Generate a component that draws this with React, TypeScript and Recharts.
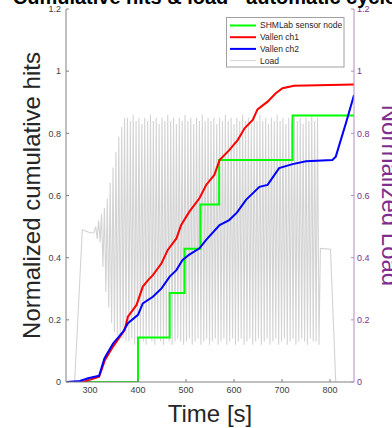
import React from 'react';
import { LineChart, Line, XAxis, YAxis } from 'recharts';

const xTicks = [300, 400, 500, 600, 700, 800];
const yTicks = [0, 0.2, 0.4, 0.6, 0.8, 1, 1.2];

// SHMLab sensor node (step)
const shmTime = [290, 400, 466, 497, 530, 569, 722, 850];
const shmHits = [0, 0.143, 0.286, 0.429, 0.571, 0.714, 0.857, 0.857];

// Vallen ch1
const ch1Time = [251, 286, 319, 331, 348, 372, 379, 397, 410, 421, 431, 449, 462, 480, 490, 507, 528, 542, 559, 570, 590, 608, 622, 639, 649, 670, 687, 701, 725, 850];
const ch1Hits = [0, 0, 0.017, 0.07, 0.114, 0.167, 0.21, 0.248, 0.307, 0.328, 0.344, 0.382, 0.425, 0.462, 0.505, 0.548, 0.591, 0.634, 0.666, 0.714, 0.746, 0.779, 0.816, 0.843, 0.877, 0.902, 0.929, 0.945, 0.953, 0.957];

// Vallen ch2
const ch2Time = [251, 279, 296, 319, 330, 348, 369, 379, 400, 410, 431, 449, 466, 480, 493, 507, 528, 542, 570, 590, 606, 625, 653, 670, 694, 722, 750, 805, 812, 833, 850];
const ch2Hits = [0, 0.003, 0.012, 0.02, 0.076, 0.124, 0.162, 0.189, 0.216, 0.253, 0.274, 0.301, 0.339, 0.36, 0.393, 0.41, 0.43, 0.457, 0.505, 0.521, 0.545, 0.586, 0.628, 0.634, 0.688, 0.701, 0.71, 0.714, 0.725, 0.832, 0.923];

// Load (right axis)
const loadTime = [
  252, 268, 284, 292, 300, 308,
  312, 315, 318, 321, 324, 327, 330, 333, 336, 339, 342, 345, 348, 351, 354, 357, 360, 363, 366, 369, 372, 375,
  378, 381, 384, 387, 390, 393, 396, 399, 402, 405,
  408, 411, 414, 417, 420, 423, 426, 429, 432, 435,
  438, 441, 444, 447, 450, 453, 456, 459, 462, 465,
  468, 471, 474, 477, 480, 483, 486, 489, 492, 495,
  498, 501, 504, 507, 510, 513, 516, 519, 522, 525,
  528, 531, 534, 537, 540, 543, 546, 549, 552, 555,
  558, 561, 564, 567, 570, 573, 576, 579, 582, 585,
  588, 591, 594, 597, 600, 603, 606, 609, 612, 615,
  618, 621, 624, 627, 630, 633, 636, 639, 642, 645,
  648, 651, 654, 657, 660, 663, 666, 669, 672, 675,
  678, 681, 684, 687, 690, 693, 696, 699, 702, 705,
  708, 711, 714, 717, 720, 723, 726, 729, 732, 735,
  738, 741, 744, 747, 750, 753, 756, 759, 762, 765,
  768, 771, 774, 777,
  780, 801, 812,
];
const loadValue = [
  0, 0, 0.49, 0.485, 0.48, 0.48,
  0.5, 0.46, 0.52, 0.45, 0.54, 0.37, 0.56, 0.29, 0.59, 0.24, 0.64, 0.19, 0.69, 0.16, 0.74, 0.15, 0.79, 0.14, 0.82, 0.14, 0.85, 0.13,
  0.85, 0.13, 0.84, 0.14, 0.86, 0.12, 0.84, 0.13, 0.85, 0.14,
  0.83, 0.13, 0.85, 0.12, 0.84, 0.14, 0.86, 0.13, 0.84, 0.12,
  0.85, 0.14, 0.83, 0.13, 0.85, 0.12, 0.84, 0.14, 0.86, 0.13,
  0.84, 0.12, 0.85, 0.13, 0.83, 0.14, 0.85, 0.13, 0.84, 0.12,
  0.86, 0.13, 0.84, 0.14, 0.85, 0.12, 0.83, 0.13, 0.85, 0.14,
  0.84, 0.12, 0.86, 0.13, 0.84, 0.14, 0.85, 0.12, 0.84, 0.13,
  0.85, 0.14, 0.83, 0.12, 0.85, 0.13, 0.84, 0.14, 0.86, 0.12,
  0.84, 0.13, 0.85, 0.14, 0.83, 0.12, 0.85, 0.13, 0.84, 0.14,
  0.86, 0.12, 0.84, 0.13, 0.85, 0.14, 0.83, 0.12, 0.85, 0.13,
  0.84, 0.14, 0.86, 0.12, 0.84, 0.13, 0.85, 0.14, 0.83, 0.12,
  0.85, 0.13, 0.84, 0.14, 0.86, 0.12, 0.84, 0.13, 0.85, 0.14,
  0.83, 0.12, 0.85, 0.13, 0.84, 0.14, 0.86, 0.12, 0.84, 0.13,
  0.85, 0.14, 0.83, 0.13, 0.85, 0.12, 0.84, 0.14, 0.86, 0.13,
  0.84, 0.13, 0.85, 0.12,
  0.43, 0.427, 0,
];

const legendItems = [
  { name: 'SHMLab sensor node', color: '#00ff00', width: 2 },
  { name: 'Vallen ch1', color: '#ff0000', width: 2 },
  { name: 'Vallen ch2', color: '#0000ff', width: 2 },
  { name: 'Load', color: '#d6d6d6', width: 1 },
];

const zip = (t: number[], v: number[]) => t.map((x, i) => ({ t: x, v: v[i] }));

const shmData = zip(shmTime, shmHits);
const ch1Data = zip(ch1Time, ch1Hits);
const ch2Data = zip(ch2Time, ch2Hits);
const loadData = zip(loadTime, loadValue);

const FONT = '"Liberation Sans", Arial, Helvetica, sans-serif';
const PURPLE = '#7e2f8e';
const AXIS = '#808080';

const App = () => (
  <div style={{ position: 'absolute', left: 0, top: 0, width: 392, height: 428, background: '#fff', overflow: 'hidden', fontFamily: FONT }}>
    <LineChart width={392} height={428} margin={{ top: 9, right: 0, bottom: 0, left: 0 }}>
      <XAxis xAxisId="b" dataKey="t" type="number" domain={[250, 850]} ticks={xTicks} allowDataOverflow
        height={46} tickSize={-3} tickMargin={8} stroke={AXIS}
        tick={{ fontSize: 9, fill: '#404040', fontFamily: FONT }} />
      <XAxis xAxisId="top" orientation="top" dataKey="t" type="number" domain={[250, 850]} ticks={xTicks} allowDataOverflow
        height={0} tickSize={-3} stroke={AXIS} tickFormatter={() => ''} />
      <YAxis yAxisId="l" type="number" domain={[0, 1.2]} ticks={yTicks} allowDataOverflow width={66}
        tickSize={-3} tickMargin={8} stroke={AXIS} tickFormatter={(v: number) => String(v)}
        tick={{ fontSize: 9, fill: '#404040', fontFamily: FONT }} />
      <YAxis yAxisId="r" orientation="right" type="number" domain={[0, 1.2]} ticks={yTicks} allowDataOverflow width={38}
        tickSize={-3} tickMargin={6} stroke="#b48cc0" tickFormatter={(v: number) => String(v)}
        tick={{ fontSize: 9, fill: PURPLE, fontFamily: FONT }} />
      <Line xAxisId="b" yAxisId="r" data={loadData} dataKey="v" type="linear" stroke="#d3d3d3" strokeWidth={1.1} dot={false} isAnimationActive={false} />
      <Line xAxisId="b" yAxisId="l" data={shmData} dataKey="v" type="stepAfter" stroke="#00ff00" strokeWidth={2} dot={false} isAnimationActive={false} />
      <Line xAxisId="b" yAxisId="l" data={ch1Data} dataKey="v" type="linear" stroke="#ff0000" strokeWidth={2} dot={false} isAnimationActive={false} />
      <Line xAxisId="b" yAxisId="l" data={ch2Data} dataKey="v" type="linear" stroke="#0000ff" strokeWidth={2} dot={false} isAnimationActive={false} />
    </LineChart>
    <svg width={392} height={428} style={{ position: 'absolute', left: 0, top: 0, pointerEvents: 'none' }}>
      <text x={210} y={4} textAnchor="middle" fontSize={20} fontWeight="bold" fill="#000" fontFamily={FONT}>
        Cumulative hits &amp; load - automatic cycles
      </text>
      <text x={210} y={421.5} textAnchor="middle" fontSize={24} fill="#262626" fontFamily={FONT}>Time [s]</text>
      <text transform="translate(40,195.5) rotate(-90)" textAnchor="middle" fontSize={24} fill="#262626" fontFamily={FONT}>
        Normalized cumulative hits
      </text>
      <text transform="translate(382,195.5) rotate(90)" textAnchor="middle" fontSize={24} fill={PURPLE} fontFamily={FONT}>
        Normalized Load
      </text>
      <rect x={226.5} y={17.5} width={117.5} height={49.5} fill="#fff" stroke="#a0a0a0" strokeWidth={1} />
      {legendItems.map((it, i) => (
        <g key={it.name}>
          <line x1={230} x2={256} y1={25.5 + i * 11.7} y2={25.5 + i * 11.7} stroke={it.color} strokeWidth={it.width} />
          <text x={260} y={25.5 + i * 11.7} dy="0.35em" fontSize={8.5} fill="#262626" fontFamily={FONT}>{it.name}</text>
        </g>
      ))}
    </svg>
  </div>
);

export default App;
